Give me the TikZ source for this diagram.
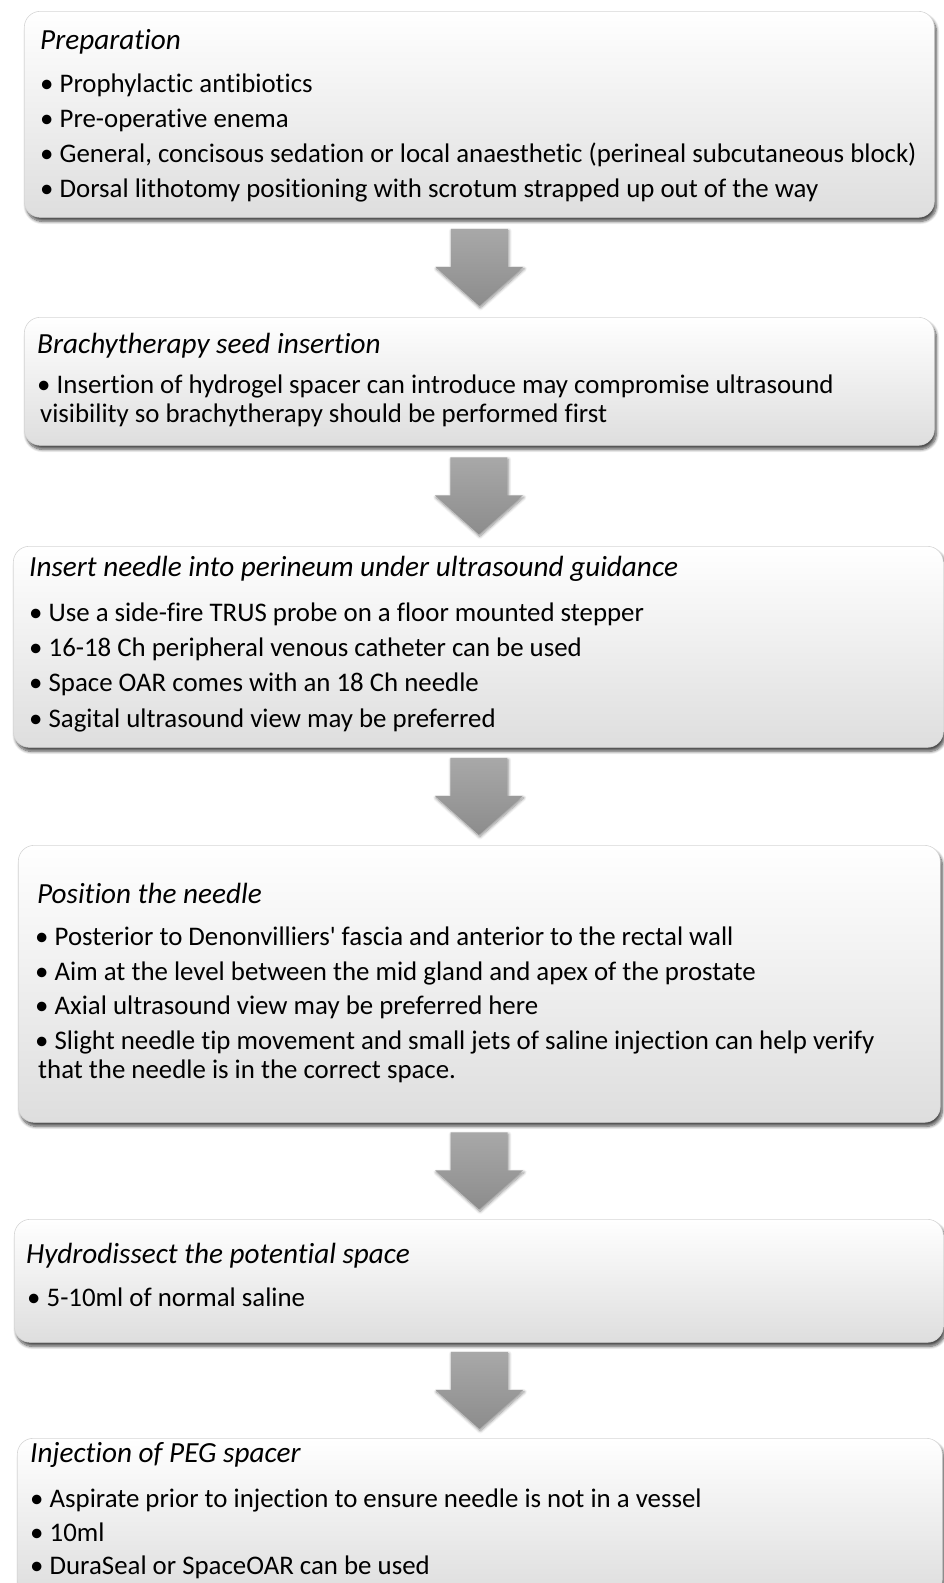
\documentclass[tikz,border=0pt]{standalone}
\usepackage{fontspec}
\setmainfont{Carlito}[Ligatures=NoCommon]
\usetikzlibrary{calc,shadows.blur}
\newcommand\flowfont{\fontsize{26.85}{29}\selectfont}
\newcommand\titlefont{\fontsize{29.2}{31}\selectfont}

\begin{document}
\begin{tikzpicture}[x=1pt, y=-1pt,
    stepbox/.style n args={2}{draw=black!16, line width=0.6pt, rounded corners=16pt,
      top color=white, middle color=white, bottom color=black!13,
      minimum width=#1pt, minimum height=#2pt, inner sep=0, anchor=north west,
      blur shadow={shadow xshift=2pt, shadow yshift=-4pt, shadow blur radius=3pt,
        shadow blur steps=8, shadow opacity=70}},
    flowarrow/.style={top color=black!34, bottom color=black!45,
      blur shadow={shadow xshift=1pt, shadow yshift=-2pt, shadow blur radius=3pt,
        shadow blur steps=8, shadow opacity=45}},
    steptitle/.style={anchor=base west, inner sep=0, font=\titlefont\itshape},
    item/.style={anchor=base west, inner sep=0, font=\flowfont}]
    \clip (0,0) rectangle (944,1583);

    % Boxes
    \node[stepbox={910}{206}] (prep) at (24,11) {};
    \node[stepbox={910}{128}] (brachy) at (24,317) {};
    \node[stepbox={930}{201}] (insert) at (13,546) {};
    \node[stepbox={922}{277}] (position) at (18,845) {};
    \node[stepbox={929}{123}] (hydro) at (14,1219) {};
    \node[stepbox={925}{157}] (inject) at (17,1438) {};

    % Arrows between the boxes
    \foreach \a/\b [count=\k] in {prep/brachy, brachy/insert, insert/position, position/hydro, hydro/inject}
        \path[flowarrow] ($(\a.south)!.5!(\b.north)$) coordinate (gap\k)
            ++(-28.5,-38.5) -- ++(57,0) -- ++(0,38) -- ++(15.5,0) -- ++(-44,39)
            -- ++(-44,-39) -- ++(15.5,0) -- cycle;

    % Preparation
    \node[steptitle] (prep-t) at (40,49) {Preparation};
    \foreach \txt [count=\i] in {Prophylactic antibiotics, Pre-operative enema,
        {General, concisous sedation or local anaesthetic (perineal subcutaneous block)},
        Dorsal lithotomy positioning with scrotum strapped up out of the way}
        \node[item] (prep-\i) at (40,57+35*\i) {\textbullet\ \txt};

    % Brachytherapy
    \node[steptitle] (brachy-t) at (37,353) {Brachytherapy seed insertion};
    \node[item] (brachy-1) at (37,393) {\textbullet\ Insertion of hydrogel spacer can introduce may compromise ultrasound};
    \node[item] (brachy-2) at (40,422) {visibility so brachytherapy should be performed first};

    % Needle insertion
    \node[steptitle] (insert-t) at (29,576) {Insert needle into perineum under ultrasound guidance};
    \foreach \txt [count=\i] in {Use a side-fire TRUS probe on a floor mounted stepper,
        16-18 Ch peripheral venous catheter can be used,
        Space OAR comes with an 18 Ch needle,
        Sagital ultrasound view may be preferred}
        \node[item] (insert-\i) at (29,586+35.3*\i) {\textbullet\ \txt};

    % Needle position
    \node[steptitle] (position-t) at (37,903) {Position the needle};
    \foreach \txt [count=\i] in {Posterior to Denonvilliers\textquotesingle\ fascia and anterior to the rectal wall,
        Aim at the level between the mid gland and apex of the prostate,
        Axial ultrasound view may be preferred here,
        Slight needle tip movement and small jets of saline injection can help verify}
        \node[item] (position-\i) at (35,911+34.5*\i) {\textbullet\ \txt};
    \node[item] (position-5) at (38,1078) {that the needle is in the correct space.};

    % Hydrodissection
    \node[steptitle] (hydro-t) at (26,1263) {Hydrodissect the potential space};
    \node[item] (hydro-1) at (27,1306) {\textbullet\ 5-10ml of normal saline};

    % Injection
    \node[steptitle] (inject-t) at (30,1462) {Injection of PEG spacer};
    \foreach \txt [count=\i] in {Aspirate prior to injection to ensure needle is not in a vessel,
        10ml, DuraSeal or SpaceOAR can be used}
        \node[item] (inject-\i) at (30,1474+33.5*\i) {\textbullet\ \txt};
\end{tikzpicture}
\end{document}
